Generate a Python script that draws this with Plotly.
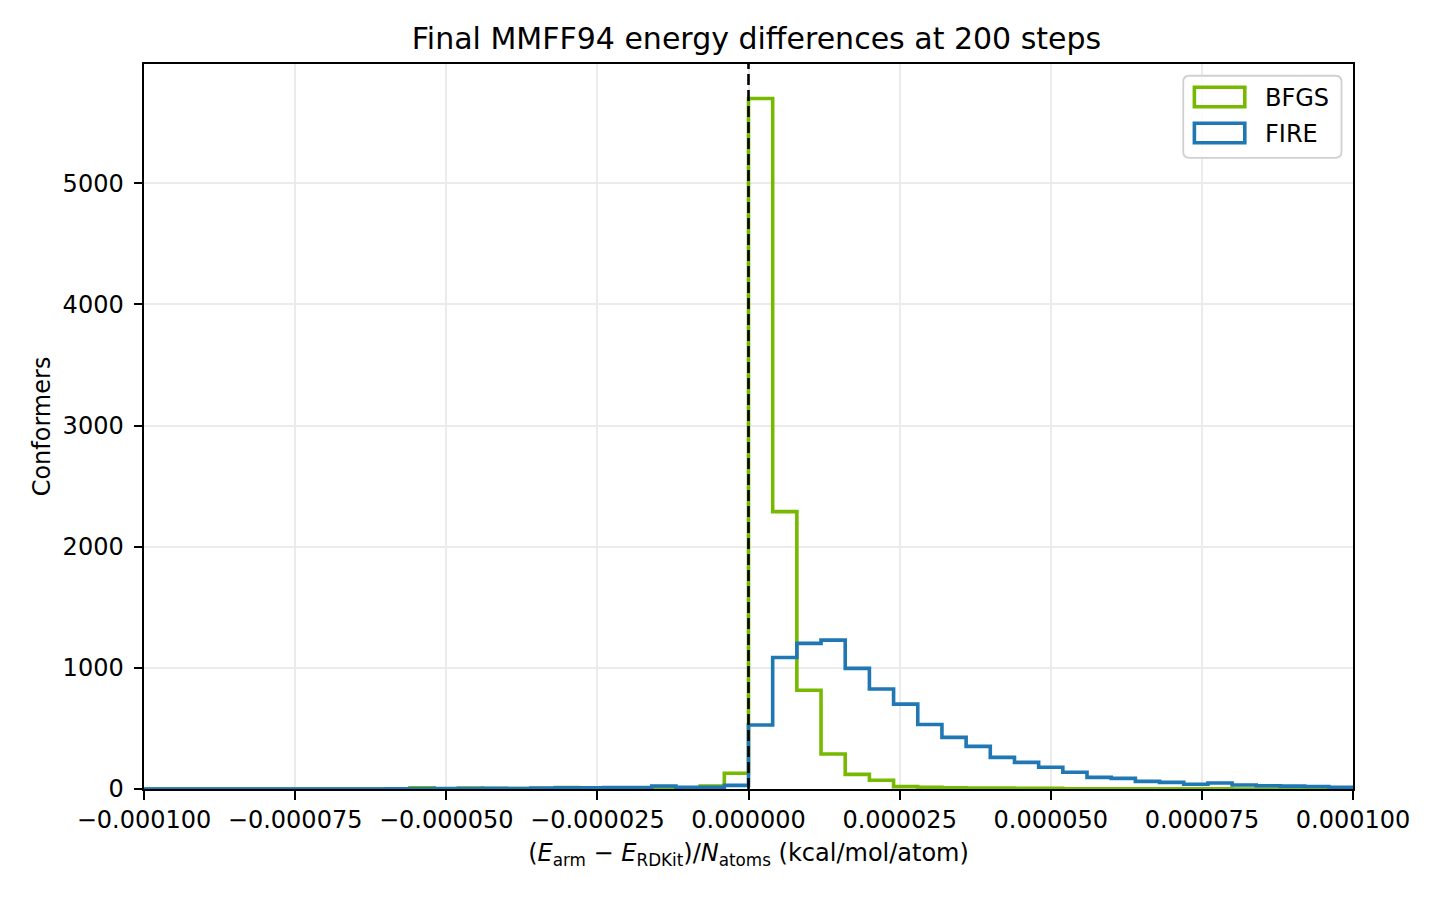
import numpy as np
import plotly.graph_objects as go

# ---- data ----
bin_lo = -0.0001
bin_hi = 0.0001
n_bins = 50
bin_edges = np.linspace(bin_lo, bin_hi, n_bins + 1)

bfgs_counts = [
    0, 0, 0, 0, 0, 0, 0, 0, 0, 0,
    0, 10, 0, 8, 3, 3, 3, 12, 5, 5,
    5, 5, 8, 25, 130, 5700, 2290, 815, 289, 121,
    72, 20, 15, 10, 8, 7, 6, 5, 2, 2,
    2, 2, 1, 1, 1, 0, 0, 0, 0, 0,
]
fire_counts = [
    0, 0, 0, 0, 0, 0, 0, 0, 0, 0,
    2, 2, 3, 3, 5, 3, 8, 10, 10, 12,
    12, 25, 15, 15, 30, 528, 1086, 1202, 1229, 996,
    825, 701, 533, 426, 352, 261, 220, 179, 138, 96,
    88, 63, 55, 39, 49, 33, 27, 24, 21, 15,
]
series_names = ["BFGS", "FIRE"]
series_colors = ["#76b900", "#1f77b4"]

x_tick_vals = [-0.0001, -0.000075, -0.00005, -0.000025, 0.0, 0.000025, 0.00005, 0.000075, 0.0001]
x_tick_text = ["−0.000100", "−0.000075", "−0.000050", "−0.000025", "0.000000",
               "0.000025", "0.000050", "0.000075", "0.000100"]
y_tick_vals = [0, 1000, 2000, 3000, 4000, 5000]

FONT = "DejaVu Sans"
FS = 24


def step_xy(edges, counts):
    xs = [edges[0]] + list(edges)
    ys = [0] + list(counts) + [counts[-1]]
    xs.append(edges[-1])
    ys.append(0)
    return xs, ys


def rounded_rect_path(x0, y0, x1, y1, rx, ry):
    return (f"M {x0+rx},{y0} L {x1-rx},{y0} Q {x1},{y0} {x1},{y0+ry} "
            f"L {x1},{y1-ry} Q {x1},{y1} {x1-rx},{y1} "
            f"L {x0+rx},{y1} Q {x0},{y1} {x0},{y1-ry} "
            f"L {x0},{y0+ry} Q {x0},{y0} {x0+rx},{y0} Z")


fig = go.Figure()
for name, counts, color in zip(series_names, [bfgs_counts, fire_counts], series_colors):
    xs, ys = step_xy(bin_edges, counts)
    fig.add_trace(go.Scatter(x=xs, y=ys, mode="lines", line=dict(color=color, width=3.6, shape="hv"),
                             name=name, showlegend=False, hoverinfo="skip"))

# dashed zero line
fig.add_shape(type="line", x0=0, x1=0, xref="x", y0=0, y1=1, yref="paper",
              line=dict(color="black", width=2.6, dash="11px,5px"))

# manual legend (matplotlib style)
fig.add_shape(type="path", xref="paper", yref="paper",
              path=rounded_rect_path(0.8596, 0.8706, 0.9905, 0.9838, 0.005, 0.0083),
              line=dict(color="#d0d0d0", width=1.8), fillcolor="rgba(255,255,255,0.85)", layer="above")
rect_y = [(0.9411, 0.9679), (0.8914, 0.9182)]
text_y = [0.9530, 0.9033]
for (y0, y1), ty, name, color in zip(rect_y, text_y, series_names, series_colors):
    fig.add_shape(type="rect", xref="paper", yref="paper", x0=0.8688, x1=0.9105, y0=y0, y1=y1,
                  line=dict(color=color, width=3.6), fillcolor="rgba(0,0,0,0)", layer="above")
    fig.add_annotation(xref="paper", yref="paper", x=0.9255, y=ty, text=name, showarrow=False,
                       xanchor="left", yanchor="middle", font=dict(family=FONT, size=FS, color="black"))

axis_common = dict(
    showline=True, linecolor="black", linewidth=2, mirror=True,
    ticks="outside", ticklen=8.5, tickwidth=2, tickcolor="black",
    showgrid=True, gridcolor="#ebebeb", gridwidth=1.8, zeroline=False,
    tickfont=dict(family=FONT, size=FS, color="black"),
)

fig.update_layout(
    width=1440, height=900,
    margin=dict(l=136, r=95, t=56, b=119),
    paper_bgcolor="white", plot_bgcolor="white",
    font=dict(family=FONT, size=FS, color="black"),
    title=dict(text="Final MMFF94 energy differences at 200 steps", x=0.5198, xanchor="center",
               y=1 - 30 / 900, yref="container", yanchor="middle",
               font=dict(family=FONT, size=30, color="black")),
    xaxis=dict(range=[bin_lo, bin_hi], tickvals=x_tick_vals, ticktext=x_tick_text,
               title=dict(text="(<i>E</i><sub>arm</sub> − <i>E</i><sub>RDKit</sub>)/<i>N</i><sub>atoms</sub> (kcal/mol/atom)",
                          font=dict(family=FONT, size=FS), standoff=11),
               **axis_common),
    yaxis=dict(range=[0, 5985], tickvals=y_tick_vals, ticklabelstandoff=5,
               title=dict(text="Conformers", font=dict(family=FONT, size=FS), standoff=5),
               **axis_common),
    showlegend=False,
)

fig.write_html("out.html")
